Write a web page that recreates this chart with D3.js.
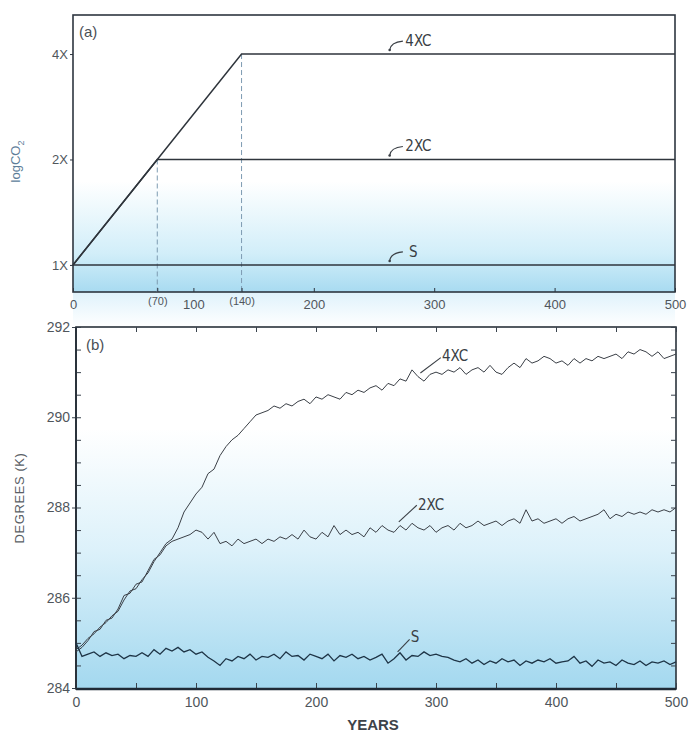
<!DOCTYPE html>
<html>
<head>
<meta charset="utf-8">
<script src="https://cdn.jsdelivr.net/npm/d3@7/dist/d3.min.js"></script>
<style>
  body { margin: 0; background: #fff; }
  text { font-family: "Liberation Sans", Arial, sans-serif; fill: #4a4f55; }
  .tag { font-family: "Liberation Sans Narrow", "DejaVu Sans Condensed", "Liberation Sans", sans-serif; font-size: 15px; fill: #3a3f45; }
</style>
</head>
<body>
<script>
// Panel (b) temperature runs, every 5 years
var years = [0, 5, 10, 15, 20, 25, 30, 35, 40, 45, 50, 55, 60, 65, 70, 75, 80, 85, 90, 95,
  100, 105, 110, 115, 120, 125, 130, 135, 140, 145, 150, 155, 160, 165, 170, 175, 180, 185, 190, 195,
  200, 205, 210, 215, 220, 225, 230, 235, 240, 245, 250, 255, 260, 265, 270, 275, 280, 285, 290, 295,
  300, 305, 310, 315, 320, 325, 330, 335, 340, 345, 350, 355, 360, 365, 370, 375, 380, 385, 390, 395,
  400, 405, 410, 415, 420, 425, 430, 435, 440, 445, 450, 455, 460, 465, 470, 475, 480, 485, 490, 495, 500];

var temp4XC = [284.85, 284.95, 285.1, 285.2, 285.35, 285.45, 285.6, 285.7, 285.95, 286.15,
  286.2, 286.4, 286.55, 286.8, 287.0, 287.2, 287.3, 287.55, 287.9, 288.1,
  288.3, 288.45, 288.75, 288.85, 289.15, 289.35, 289.5, 289.6, 289.75, 289.9,
  290.05, 290.1, 290.15, 290.25, 290.2, 290.3, 290.25, 290.35, 290.4, 290.3,
  290.45, 290.4, 290.5, 290.45, 290.4, 290.55, 290.5, 290.6, 290.55, 290.65,
  290.7, 290.6, 290.75, 290.7, 290.85, 290.8, 291.05, 290.9, 290.8, 290.95,
  291.0, 290.95, 291.05, 291.0, 291.1, 290.95, 291.05, 291.1, 291.0, 291.15,
  291.0, 290.95, 291.1, 291.2, 291.1, 291.3, 291.2, 291.25, 291.35, 291.3,
  291.2, 291.25, 291.15, 291.3, 291.2, 291.3, 291.25, 291.35, 291.3, 291.35,
  291.4, 291.3, 291.45, 291.4, 291.5, 291.45, 291.35, 291.45, 291.3, 291.35, 291.4];

var temp2XC = [284.8, 284.9, 285.05, 285.25, 285.3, 285.5, 285.55, 285.75, 286.05, 286.1,
  286.3, 286.35, 286.6, 286.85, 286.95, 287.15, 287.25, 287.3, 287.35, 287.4,
  287.5, 287.45, 287.3, 287.45, 287.2, 287.25, 287.15, 287.3, 287.2, 287.25,
  287.3, 287.2, 287.3, 287.25, 287.35, 287.3, 287.4, 287.3, 287.5, 287.35,
  287.3, 287.45, 287.35, 287.6, 287.4, 287.5, 287.4, 287.45, 287.35, 287.55,
  287.45, 287.6, 287.5, 287.45, 287.6, 287.5, 287.65, 287.55, 287.5, 287.6,
  287.45, 287.55, 287.6, 287.5, 287.65, 287.55, 287.6, 287.7, 287.6, 287.65,
  287.7, 287.6, 287.7, 287.75, 287.65, 287.95, 287.7, 287.75, 287.65, 287.7,
  287.75, 287.65, 287.75, 287.8, 287.7, 287.75, 287.8, 287.85, 287.95, 287.75,
  287.85, 287.8, 287.9, 287.85, 287.9, 287.85, 287.95, 287.9, 287.95, 287.9, 288.0];

var tempS = [285.0, 284.7, 284.75, 284.8, 284.7, 284.78, 284.72, 284.75, 284.65, 284.72,
  284.7, 284.78, 284.7, 284.85, 284.75, 284.88, 284.82, 284.9, 284.8, 284.85,
  284.75, 284.8, 284.68, 284.6, 284.5, 284.65, 284.6, 284.7, 284.65, 284.75,
  284.62, 284.7, 284.68, 284.75, 284.65, 284.8, 284.7, 284.72, 284.62, 284.75,
  284.7, 284.65, 284.75, 284.6, 284.72, 284.68, 284.75, 284.65, 284.7, 284.62,
  284.68, 284.75, 284.55, 284.65, 284.78, 284.62, 284.72, 284.7, 284.8, 284.72,
  284.75, 284.7, 284.68, 284.62, 284.58, 284.65, 284.55, 284.62, 284.52, 284.6,
  284.55, 284.65, 284.58, 284.62, 284.5, 284.6, 284.55, 284.62, 284.58, 284.65,
  284.55, 284.58, 284.6, 284.7, 284.55, 284.6, 284.48, 284.62, 284.55, 284.58,
  284.5, 284.62, 284.55, 284.52, 284.6, 284.5, 284.58, 284.55, 284.6, 284.52, 284.58];

// Panel (a) CO2 scenarios (multiples of the control value)
var co2Years = [0, 70, 140, 500];
var co2S = [1, 1, 1, 1];
var co2_2XC = [1, 2, 2, 2];
var co2_4XC = [1, 2, 4, 4];

// tick labels
var topTickYears = [0, 70, 100, 140, 200, 300, 400, 500];
var topTickLabels = ["0", "(70)", "100", "(140)", "200", "300", "400", "500"];
var co2Ticks = [1, 2, 4];
var co2TickLabels = ["1X", "2X", "4X"];
var tempTicks = [284, 286, 288, 290, 292];
var yearTicks = [0, 100, 200, 300, 400, 500];

var svgWidth = 690;
var svgHeight = 733;

var svg = d3.select("body")
  .append("svg")
  .attr("width", svgWidth)
  .attr("height", svgHeight);

var defs = svg.append("defs");

// white-to-blue wash like the scanned figure
function wash(id, y1, y2, stops) {
  var g = defs.append("linearGradient")
    .attr("id", id)
    .attr("gradientUnits", "userSpaceOnUse")
    .attr("x1", 0).attr("x2", 0)
    .attr("y1", y1).attr("y2", y2);
  stops.forEach(s => g.append("stop").attr("offset", s[0]).attr("stop-color", s[1]));
}

var boxA = {left: 73, right: 675, top: 15, bottom: 292};
var boxB = {left: 76, right: 676, top: 327, bottom: 689};

wash("washA", boxA.top, boxA.bottom, [[0, "#ffffff"], [0.6, "#ffffff"], [0.86, "#d2eef9"], [1, "#a8dbf1"]]);
wash("washB", boxB.top, boxB.bottom, [[0, "#ffffff"], [0.28, "#ffffff"], [0.62, "#dcf1fa"], [1, "#a3d8ef"]]);
wash("washGap", boxA.bottom, boxB.top, [[0, "#dff2fb"], [1, "#ffffff"]]);

svg.append("rect")
  .attr("x", boxA.left).attr("y", boxA.bottom)
  .attr("width", boxA.right - boxA.left).attr("height", boxB.top - boxA.bottom)
  .attr("fill", "url(#washGap)");

// ==============================
// Panel (a): log CO2
// ==============================
var xA = d3.scaleLinear().domain([0, 500]).range([boxA.left, boxA.right]);
var yA = d3.scaleLog().base(2).domain([0.837, 5.17]).range([boxA.bottom, boxA.top]);

var panelA = svg.append("g");

panelA.append("rect")
  .attr("x", boxA.left).attr("y", boxA.top)
  .attr("width", boxA.right - boxA.left).attr("height", boxA.bottom - boxA.top)
  .attr("fill", "url(#washA)")
  .attr("stroke", "#2e3640")
  .attr("stroke-width", 1.6);

// dashed drop lines at end of ramps
panelA.selectAll(".drop")
  .data([[70, 2], [140, 4]])
  .enter()
  .append("line")
  .attr("x1", d => xA(d[0])).attr("x2", d => xA(d[0]))
  .attr("y1", d => yA(d[1])).attr("y2", boxA.bottom)
  .attr("stroke", "#7d9bb2")
  .attr("stroke-width", 1)
  .attr("stroke-dasharray", "5,3");

var lineA = d3.line()
  .x((d, i) => xA(co2Years[i]))
  .y(d => yA(d));

[co2S, co2_2XC, co2_4XC].forEach(series => {
  panelA.append("path")
    .attr("d", lineA(series))
    .attr("fill", "none")
    .attr("stroke", "#2f353c")
    .attr("stroke-width", 1.5);
});

// axes
var bottomA = d3.axisBottom(xA)
  .tickValues(topTickYears)
  .tickSize(-4)
  .tickPadding(8)
  .tickFormat((d, i) => topTickLabels[i]);

var gxA = panelA.append("g")
  .attr("transform", `translate(0, ${boxA.bottom})`)
  .call(bottomA);
gxA.select(".domain").remove();
gxA.selectAll("line").attr("stroke", "#2e3640");
gxA.selectAll("text")
  .style("font-size", d => (d === 70 || d === 140) ? "11px" : "13px")
  .attr("dy", d => (d === 70 || d === 140) ? "0.45em" : "0.71em")
  .style("fill", "#50565c");

var leftA = d3.axisLeft(yA)
  .tickValues(co2Ticks)
  .tickSize(3)
  .tickPadding(2)
  .tickFormat((d, i) => co2TickLabels[i]);

var gyA = panelA.append("g")
  .attr("transform", `translate(${boxA.left}, 0)`)
  .call(leftA);
gyA.select(".domain").remove();
gyA.selectAll("line").attr("stroke", "#2e3640");
gyA.selectAll("text").style("font-size", "13px").style("fill", "#50565c");

panelA.append("text")
  .attr("x", boxA.left + 6)
  .attr("y", boxA.top + 22)
  .style("font-size", "15px")
  .text("(a)");

panelA.append("text")
  .attr("transform", `translate(20, ${(boxA.top + boxA.bottom) / 2 + 8}) rotate(-90)`)
  .attr("text-anchor", "middle")
  .style("font-size", "13px")
  .style("fill", "#5d7d98")
  .text("logCO")
  .append("tspan")
  .attr("dy", 4)
  .style("font-size", "9px")
  .style("fill", "#5d7d98")
  .text("2");

// curve labels with little hooked leaders
function hook(g, x0, y0, x1, y1) {
  g.append("path")
    .attr("d", `M${x0},${y0} Q${x0 + 1},${y1 + 1} ${x1},${y1}`)
    .attr("fill", "none")
    .attr("stroke", "#3a3f45")
    .attr("stroke-width", 1.2);
  g.append("circle").attr("cx", x0).attr("cy", y0).attr("r", 1.3).attr("fill", "#3a3f45");
}

[[co2_4XC, "4XC", 276], [co2_2XC, "2XC", 276], [co2S, "S", 279]].forEach(t => {
  var level = yA(t[0][3]);
  hook(panelA, xA(263), level - 4, xA(274), level - 13);
  panelA.append("text")
    .attr("class", "tag")
    .attr("x", xA(t[2]))
    .attr("y", level - 8)
    .text(t[1]);
});

// ==============================
// Panel (b): temperature
// ==============================
var xB = d3.scaleLinear().domain([0, 500]).range([boxB.left, boxB.right]);
var yB = d3.scaleLinear().domain([284, 292]).range([boxB.bottom - 1, boxB.top]);

var panelB = svg.append("g");

panelB.append("rect")
  .attr("x", boxB.left).attr("y", boxB.top)
  .attr("width", boxB.right - boxB.left).attr("height", boxB.bottom - boxB.top)
  .attr("fill", "url(#washB)")
  .attr("stroke", "#2a323b")
  .attr("stroke-width", 1.6);

var minorTemp = d3.range(284, 292.01, 0.5);
var minorYears = d3.range(0, 501, 50);

// inward minor ticks on all four sides
panelB.append("g").attr("transform", `translate(${boxB.left}, 0)`)
  .call(d3.axisLeft(yB).tickValues(minorTemp).tickSize(-5).tickFormat(""))
  .call(g => g.select(".domain").remove());
panelB.append("g").attr("transform", `translate(${boxB.right}, 0)`)
  .call(d3.axisRight(yB).tickValues(minorTemp).tickSize(-5).tickFormat(""))
  .call(g => g.select(".domain").remove());
panelB.append("g").attr("transform", `translate(0, ${boxB.top})`)
  .call(d3.axisTop(xB).tickValues(minorYears).tickSize(-5).tickFormat(""))
  .call(g => g.select(".domain").remove());
panelB.append("g").attr("transform", `translate(0, ${boxB.bottom})`)
  .call(d3.axisBottom(xB).tickValues(minorYears).tickSize(-6).tickFormat(""))
  .call(g => g.select(".domain").remove());

var gyB = panelB.append("g")
  .attr("transform", `translate(${boxB.left}, 0)`)
  .call(d3.axisLeft(yB).tickValues(tempTicks).tickSize(4).tickPadding(2));
gyB.select(".domain").remove();
gyB.selectAll("text").style("font-size", "14px").style("fill", "#50565c");

var gxB = panelB.append("g")
  .attr("transform", `translate(0, ${boxB.bottom})`)
  .call(d3.axisBottom(xB).tickValues(yearTicks).tickSize(0).tickPadding(8));
gxB.select(".domain").remove();
gxB.selectAll("text").style("font-size", "14px").style("fill", "#50565c");

panelB.selectAll(".tick line").attr("stroke", "#3a434d");

// heavy base line
panelB.append("line")
  .attr("x1", boxB.left).attr("x2", boxB.right)
  .attr("y1", boxB.bottom).attr("y2", boxB.bottom)
  .attr("stroke", "#1f2a36")
  .attr("stroke-width", 2.6);
panelB.append("line")
  .attr("x1", boxB.left).attr("x2", boxB.left)
  .attr("y1", boxB.top).attr("y2", boxB.bottom)
  .attr("stroke", "#2a323b")
  .attr("stroke-width", 2);

var lineB = d3.line()
  .x((d, i) => xB(years[i]))
  .y(d => yB(d));

panelB.append("path").attr("d", lineB(temp4XC))
  .attr("fill", "none").attr("stroke", "#3b4047").attr("stroke-width", 1);
panelB.append("path").attr("d", lineB(temp2XC))
  .attr("fill", "none").attr("stroke", "#3b4047").attr("stroke-width", 1);
panelB.append("path").attr("d", lineB(tempS))
  .attr("fill", "none").attr("stroke", "#1e3446").attr("stroke-width", 1.3);

panelB.append("text")
  .attr("x", boxB.left + 10)
  .attr("y", boxB.top + 23)
  .style("font-size", "15px")
  .text("(b)");

function pointer(g, x0, y0, x1, y1) {
  g.append("line")
    .attr("x1", x0).attr("y1", y0).attr("x2", x1).attr("y2", y1)
    .attr("stroke", "#3a3f45").attr("stroke-width", 1.1);
}

pointer(panelB, xB(304), yB(291.32), xB(287), yB(290.98));
panelB.append("text").attr("class", "tag")
  .attr("x", xB(305)).attr("y", yB(291.35) + 5).text("4XC");

pointer(panelB, xB(284), yB(288.05), xB(269), yB(287.68));
panelB.append("text").attr("class", "tag")
  .attr("x", xB(285)).attr("y", yB(288.05) + 5).text("2XC");

pointer(panelB, xB(278), yB(285.08), xB(268), yB(284.8));
panelB.append("text").attr("class", "tag")
  .attr("x", xB(279)).attr("y", yB(285.13) + 5).text("S");

// axis titles
svg.append("text")
  .attr("transform", `translate(24, ${(boxB.top + boxB.bottom) / 2 - 10}) rotate(-90)`)
  .attr("text-anchor", "middle")
  .style("font-size", "13px")
  .style("letter-spacing", "0.6px")
  .style("fill", "#5a6066")
  .text("DEGREES (K)");

svg.append("text")
  .attr("x", xB(250) - 3)
  .attr("y", 730)
  .attr("text-anchor", "middle")
  .style("font-size", "15px")
  .style("font-weight", "bold")
  .style("fill", "#3d4349")
  .text("YEARS");
</script>
</body>
</html>
